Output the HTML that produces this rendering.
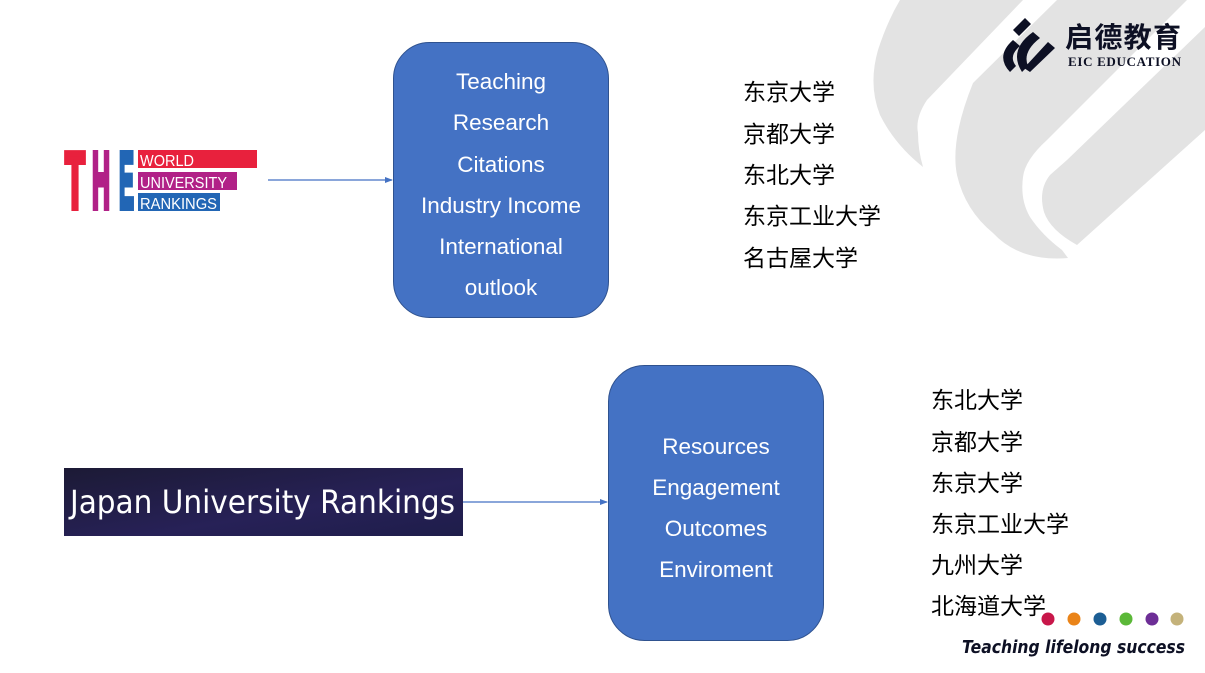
<!DOCTYPE html>
<html><head><meta charset="utf-8"><style>
html,body{margin:0;padding:0;background:#fff;}
svg{display:block;}
</style></head><body>
<svg width="1205" height="673" viewBox="0 0 1205 673" xmlns="http://www.w3.org/2000/svg">
<defs>
<marker id="ah" markerWidth="8" markerHeight="8" refX="7" refY="4" orient="auto" markerUnits="userSpaceOnUse">
<path d="M0,1 L8,4 L0,7 Z" fill="#4472c4"/></marker>
<linearGradient id="jg" x1="0" y1="0" x2="1" y2="1"><stop offset="0" stop-color="#1c1a35"/><stop offset="0.6" stop-color="#272157"/><stop offset="1" stop-color="#1e1d4a"/></linearGradient>
</defs>
<!-- background bands -->
<g fill="#e3e3e3">
<path d="M900,0 L1023,0 L927,100 Q915,118 918,133 Q918,150 923,167 Q895,145 880,115 Q868,85 878,50 Q887,22 900,0 Z"/>
<path d="M1057,0 L1187,0 L1047,140 Q1025,160 1023,177 Q1020,200 1030,217 Q1042,235 1062,250 L1068,258 Q1020,262 993,233 Q965,210 957,175 Q950,140 973,83 Z"/>
<path d="M1205,27 L1205,130 L1077,245 Q1050,230 1044,212 Q1038,190 1050,175 L1067,160 Z"/>
</g>
<!-- logo -->
<g fill="#0d1024">
<path d="M1025,18 L1031,24 L1019,36 L1013,30 Z"/>
<path d="M1013,40 L1020,46 Q1008,56 1016,66 L1010,72 Q995,56 1013,40 Z"/>
<path d="M1033,32 L1040,38 Q1022,52 1028,66 L1022,72 Q1008,50 1033,32 Z"/>
<path d="M1048,42 L1055,48 L1030,72 L1024,68 Z"/>
</g>
<text x="1065" y="47" font-family="Noto Sans CJK SC, sans-serif" font-weight="700" font-size="28" fill="#0d1024" textLength="116">启德教育</text>
<text x="1068" y="66" font-family="Liberation Serif, serif" font-weight="700" font-size="13" fill="#0d1024" textLength="113">EIC EDUCATION</text>
<!-- THE logo -->
<g font-family="Liberation Sans, sans-serif" font-weight="700" stroke-width="6" stroke-linejoin="miter">
<text x="65" y="208" font-size="80" fill="#e8213d" stroke="#e8213d" textLength="20" lengthAdjust="spacingAndGlyphs">T</text>
<text x="92" y="208" font-size="80" fill="#b12187" stroke="#b12187" textLength="18" lengthAdjust="spacingAndGlyphs">H</text>
<text x="119" y="208" font-size="80" fill="#2266b5" stroke="#2266b5" textLength="15" lengthAdjust="spacingAndGlyphs">E</text>
</g>
<rect x="138" y="150" width="119" height="18" fill="#e8213d"/>
<rect x="138" y="172" width="99" height="18" fill="#b12187"/>
<rect x="138" y="193" width="82" height="18" fill="#2266b5"/>
<g font-family="Liberation Sans, sans-serif" font-size="16" fill="#fff">
<text x="140" y="166" textLength="54" lengthAdjust="spacingAndGlyphs">WORLD</text>
<text x="140" y="188" textLength="87" lengthAdjust="spacingAndGlyphs">UNIVERSITY</text>
<text x="140" y="209" textLength="77" lengthAdjust="spacingAndGlyphs">RANKINGS</text>
</g>
<!-- Japan banner -->
<rect x="64" y="468" width="399" height="68" fill="url(#jg)"/>
<text x="70" y="513" font-family="DejaVu Sans, sans-serif" font-size="32" fill="#fff" textLength="385" lengthAdjust="spacingAndGlyphs">Japan University Rankings</text>
<!-- arrows -->
<line x1="268" y1="180" x2="392" y2="180" stroke="#4472c4" stroke-width="1.2" marker-end="url(#ah)"/>
<line x1="463" y1="502" x2="607" y2="502" stroke="#4472c4" stroke-width="1.2" marker-end="url(#ah)"/>
<!-- boxes -->
<rect x="393.5" y="42.5" width="215" height="275" rx="36" fill="#4472c4" stroke="#2f528f" stroke-width="1"/>
<rect x="608.5" y="365.5" width="215" height="275" rx="36" fill="#4472c4" stroke="#2f528f" stroke-width="1"/>
<g font-family="Liberation Sans, sans-serif" font-size="22.5" fill="#fff" text-anchor="middle">
<text x="501" y="89">Teaching</text>
<text x="501" y="130">Research</text>
<text x="501" y="172">Citations</text>
<text x="501" y="213">Industry Income</text>
<text x="501" y="254">International</text>
<text x="501" y="295">outlook</text>
<text x="716" y="454">Resources</text>
<text x="716" y="495">Engagement</text>
<text x="716" y="536">Outcomes</text>
<text x="716" y="577">Enviroment</text>
</g>
<!-- lists -->
<g font-family="Noto Sans CJK SC, sans-serif" font-size="23" fill="#000">
<text x="743" y="100">东京大学</text>
<text x="743" y="142">京都大学</text>
<text x="743" y="183">东北大学</text>
<text x="743" y="224">东京工业大学</text>
<text x="743" y="266">名古屋大学</text>
<text x="931" y="408">东北大学</text>
<text x="931" y="450">京都大学</text>
<text x="931" y="491">东京大学</text>
<text x="931" y="532">东京工业大学</text>
<text x="931" y="573">九州大学</text>
<text x="931" y="614">北海道大学</text>
</g>
<!-- dots -->
<circle cx="1048" cy="619" r="6.5" fill="#c8174a"/>
<circle cx="1074" cy="619" r="6.5" fill="#ea8419"/>
<circle cx="1100" cy="619" r="6.5" fill="#1c5e94"/>
<circle cx="1126" cy="619" r="6.5" fill="#5bb838"/>
<circle cx="1152" cy="619" r="6.5" fill="#6d2e96"/>
<circle cx="1177" cy="619" r="6.5" fill="#c4b27a"/>
<text x="962" y="653" font-family="DejaVu Sans, sans-serif" font-style="italic" font-weight="700" font-size="18" fill="#0d1024" textLength="223" lengthAdjust="spacingAndGlyphs">Teaching lifelong success</text>
</svg>
</body></html>
